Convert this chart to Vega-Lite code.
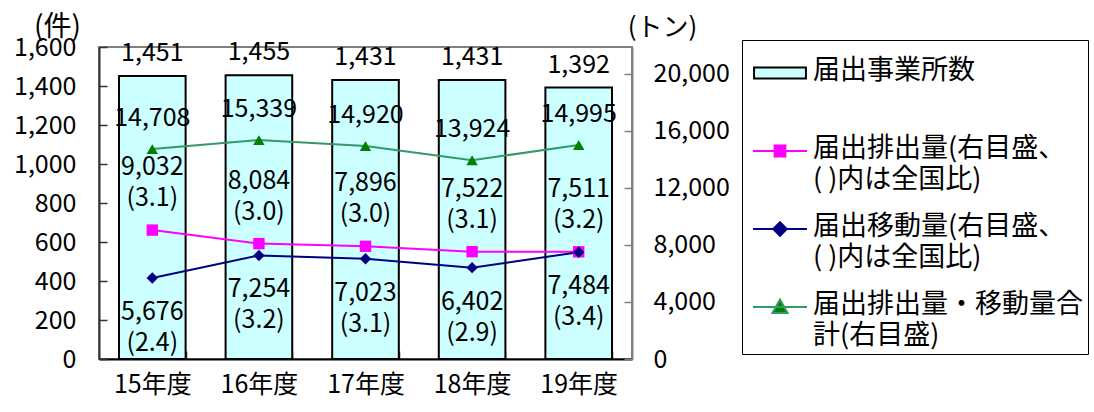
{
  "$schema": "https://vega.github.io/schema/vega-lite/v6.json",
  "width": 533,
  "height": 312,
  "autosize": {"type": "none"},
  "padding": {"left": 99, "top": 47, "right": 462, "bottom": 53},
  "background": "white",
  "config": {
    "view": {"stroke": "#808080", "strokeWidth": 2},
    "font": "Noto Sans CJK JP",
    "axis": {
      "labelFont": "Noto Sans CJK JP",
      "labelFontSize": 25,
      "labelColor": "black",
      "grid": false,
      "tickSize": -8,
      "tickWidth": 1.5,
      "titleFont": "Noto Sans CJK JP",
      "titleFontSize": 26,
      "titleFontWeight": "normal",
      "titleColor": "black"
    },
    "legend": {
      "orient": "none", "legendX": 643, "legendY": -7, "title": null,
      "strokeColor": "black", "fillColor": "white", "padding": 5, "symbolOffset": 5,
      "gridAlign": "all",
      "symbolSize": 2916, "symbolStrokeWidth": 2,
      "labelFont": "Noto Sans CJK JP", "labelFontSize": 27, "labelColor": "black",
      "labelLimit": 400, "labelOffset": 5, "rowPadding": 8
    },
    "text": {"font": "Noto Sans CJK JP", "fontSize": 25, "color": "black"}
  },
  "datasets": {
    "bars": [
      {"year": "15年度", "count": 1451},
      {"year": "16年度", "count": 1455},
      {"year": "17年度", "count": 1431},
      {"year": "18年度", "count": 1431},
      {"year": "19年度", "count": 1392}
    ],
    "lines": [
      {"year": "15年度", "series": "emission", "value": 9032, "ratio": 3.1},
      {"year": "16年度", "series": "emission", "value": 8084, "ratio": 3.0},
      {"year": "17年度", "series": "emission", "value": 7896, "ratio": 3.0},
      {"year": "18年度", "series": "emission", "value": 7522, "ratio": 3.1},
      {"year": "19年度", "series": "emission", "value": 7511, "ratio": 3.2},
      {"year": "15年度", "series": "transfer", "value": 5676, "ratio": 2.4},
      {"year": "16年度", "series": "transfer", "value": 7254, "ratio": 3.2},
      {"year": "17年度", "series": "transfer", "value": 7023, "ratio": 3.1},
      {"year": "18年度", "series": "transfer", "value": 6402, "ratio": 2.9},
      {"year": "19年度", "series": "transfer", "value": 7484, "ratio": 3.4},
      {"year": "15年度", "series": "total", "value": 14708},
      {"year": "16年度", "series": "total", "value": 15339},
      {"year": "17年度", "series": "total", "value": 14920},
      {"year": "18年度", "series": "total", "value": 13924},
      {"year": "19年度", "series": "total", "value": 14995}
    ]
  },
  "layer": [
    {
      "data": {"name": "bars"},
      "encoding": {
        "x": {
          "field": "year", "type": "nominal", "sort": null,
          "scale": {"paddingInner": 0.375, "paddingOuter": 0.1875},
          "axis": {"title": null, "labelAngle": 0, "tickBand": "extent", "domainColor": "black", "domainWidth": 2, "tickColor": "#333", "labelPadding": 21}
        },
        "y": {
          "field": "count", "type": "quantitative",
          "scale": {"domain": [0, 1600], "nice": false},
          "axis": {
            "orient": "left", "values": [0, 200, 400, 600, 800, 1000, 1200, 1400, 1600], "format": ",.0f",
            "title": "(件)", "titleFontSize": 28, "titleAngle": 0, "titleX": -42, "titleY": -20, "titleAlign": "center", "titleBaseline": "middle",
            "labelPadding": 31, "domainColor": "#333", "domainWidth": 2, "tickColor": "#333"
          }
        }
      },
      "layer": [
        {
          "mark": {"type": "bar", "fill": "#CCFFFF", "stroke": "black", "strokeWidth": 2}
        },
        {
          "mark": {"type": "text", "baseline": "middle", "dy": -23},
          "encoding": {"text": {"field": "count", "format": ","}}
        }
      ]
    },
    {
      "data": {"name": "lines"},
      "encoding": {
        "x": {"field": "year", "type": "nominal", "sort": null},
        "y": {
          "field": "value", "type": "quantitative",
          "scale": {"domain": [0, 21860], "nice": false},
          "axis": {
            "orient": "right", "values": [0, 4000, 8000, 12000, 16000, 20000], "format": ",.0f",
            "title": "(トン)", "titleAngle": 0, "titleX": 30, "titleY": -20, "titleAlign": "center", "titleBaseline": "middle",
            "labelPadding": 29, "domainColor": "#808080", "domainWidth": 2, "tickColor": "#808080"
          }
        }
      },
      "layer": [
        {
          "mark": {"type": "line", "strokeWidth": 2},
          "encoding": {
            "color": {
              "field": "series", "type": "nominal",
              "scale": {"domain": ["facilities", "emission", "transfer", "total"], "range": ["#000000", "#FF00FF", "#000080", "#339966"]},
              "legend": {
                "labelExpr": "datum.value == 'facilities' ? '届出事業所数' : datum.value == 'emission' ? ['届出排出量(右目盛、', '( )内は全国比)'] : datum.value == 'transfer' ? ['届出移動量(右目盛、', '( )内は全国比)'] : ['届出排出量・移動量合', '計(右目盛)']",
                "encode": {
                  "symbols": {
                    "update": {
                      "shape": {"signal": "datum.value == 'facilities' ? 'M-0.96,-0.2H0.96V0.2H-0.96Z' : datum.value == 'emission' ? 'M-1,0H1M-0.2,-0.2H0.2V0.2H-0.2Z' : datum.value == 'transfer' ? 'M-1,0H1M0,-0.25L0.25,0L0,0.25L-0.25,0Z' : 'M-1,0H1M0,-0.28L0.28,0.22H-0.28Z'"},
                      "fill": {"signal": "datum.value == 'facilities' ? '#CCFFFF' : datum.value == 'emission' ? '#FF00FF' : datum.value == 'transfer' ? '#000080' : '#008000'"},
                      "strokeWidth": {"value": 2},
                      "opacity": {"value": 1},
                      "fillOpacity": {"value": 1}
                    }
                  },
                  "labels": {
                    "update": {"lineHeight": {"value": 31}, "baseline": {"value": "top"}, "dy": {"value": -15}}
                  }
                }
              }
            }
          }
        },
        {
          "mark": {"type": "point", "filled": true, "opacity": 1},
          "encoding": {
            "fill": {"field": "series", "type": "nominal", "scale": {"domain": ["emission", "transfer", "total"], "range": ["#FF00FF", "#000080", "#008000"]}, "legend": null},
            "shape": {"field": "series", "type": "nominal", "scale": {"domain": ["emission", "transfer", "total"], "range": ["square", "diamond", "triangle-up"]}, "legend": null},
            "size": {"field": "series", "type": "nominal", "scale": {"domain": ["emission", "transfer", "total"], "range": [130, 130, 170]}, "legend": null}
          }
        },
        {
          "transform": [{"filter": "datum.series == 'emission'"}],
          "mark": {"type": "text", "baseline": "top", "dy": -75, "lineHeight": 31, "text": {"expr": "[format(datum.value, ','), '(' + format(datum.ratio, '.1f') + ')']"}}
        },
        {
          "transform": [{"filter": "datum.series == 'transfer'"}],
          "mark": {"type": "text", "baseline": "top", "dy": 22, "lineHeight": 31, "text": {"expr": "[format(datum.value, ','), '(' + format(datum.ratio, '.1f') + ')']"}}
        },
        {
          "transform": [{"filter": "datum.series == 'total'"}],
          "mark": {"type": "text", "baseline": "middle", "dy": -31},
          "encoding": {"text": {"field": "value", "format": ","}}
        }
      ]
    }
  ],
  "resolve": {"scale": {"y": "independent"}}
}
